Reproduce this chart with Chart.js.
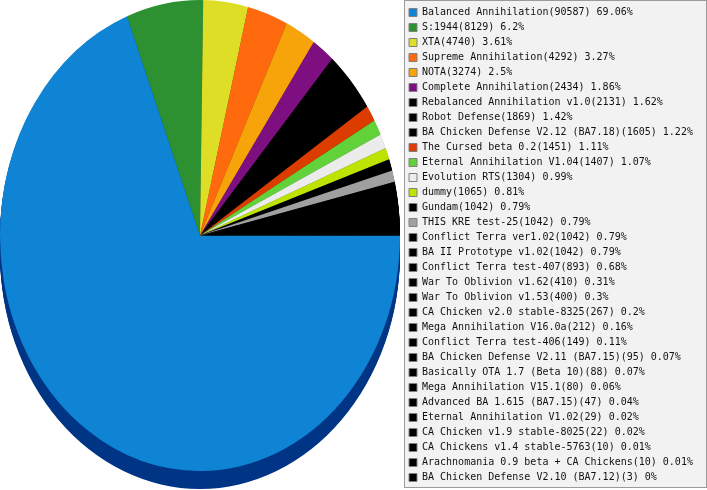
<!DOCTYPE html>
<html>
<head>
<meta charset="utf-8">
<script src="https://cdn.jsdelivr.net/npm/chart.js@4"></script>
<style>
  html, body { margin: 0; padding: 0; background: #fff; }
  #wrap { width: 707px; height: 490px; position: relative; }
</style>
</head>
<body>
<div id="wrap"><canvas id="pieChart"></canvas></div>
<script>
const games = [
  'Balanced Annihilation', 'S:1944', 'XTA', 'Supreme Annihilation', 'NOTA',
  'Complete Annihilation', 'Rebalanced Annihilation v1.0', 'Robot Defense',
  'BA Chicken Defense V2.12 (BA7.18)', 'The Cursed beta 0.2', 'Eternal Annihilation V1.04',
  'Evolution RTS', 'dummy', 'Gundam', 'THIS KRE test-25', 'Conflict Terra ver1.02',
  'BA II Prototype v1.02', 'Conflict Terra test-407', 'War To Oblivion v1.62',
  'War To Oblivion v1.53', 'CA Chicken v2.0 stable-8325', 'Mega Annihilation V16.0a',
  'Conflict Terra test-406', 'BA Chicken Defense V2.11 (BA7.15)', 'Basically OTA 1.7 (Beta 10)',
  'Mega Annihilation V15.1', 'Advanced BA 1.615 (BA7.15)', 'Eternal Annihilation V1.02',
  'CA Chicken v1.9 stable-8025', 'CA Chickens v1.4 stable-5763',
  'Arachnomania 0.9 beta + CA Chickens', 'BA Chicken Defense V2.10 (BA7.12)'
];

const games_played = [
  90587, 8129, 4740, 4292, 3274, 2434, 2131, 1869, 1605, 1451, 1407,
  1304, 1065, 1042, 1042, 1042, 1042, 893, 410, 400, 267, 212,
  149, 95, 88, 80, 47, 29, 22, 10, 10, 3
];

const sliceColors = [
  '#1084d4', '#2d9131', '#dede27', '#ff6a0f', '#f7a30a', '#7d0f80',
  '#000000', '#000000', '#000000', '#dc3c00', '#62d23a', '#ececec',
  '#bde300', '#000000', '#a0a0a0'
];
const otherColor = '#000000';
const rimColor = '#003585'; // dunkler Rand unten

const total = games_played.reduce((a, b) => a + b, 0);
const colors = games_played.map((_, i) => sliceColors[i] || otherColor);

// ellipse on screen (pie is taller than wide)
const PIE_CX = 200, PIE_CY = 235.5, PIE_RX = 200, PIE_RY = 235.5, DEPTH = 18;
const LEGEND_W = 303;

function darker(hex) {
  const n = parseInt(hex.slice(1), 16);
  const r = (n >> 16) & 255, g = (n >> 8) & 255, b = n & 255;
  return `rgb(${Math.round(r * 0.45)},${Math.round(g * 0.45)},${Math.round(b * 0.55)})`;
}

const tiltPlugin = {
  id: 'tilt',
  beforeLayout(chart) {
    const lg = chart.legend;
    if (lg && !lg._fixedWidth) {
      const fit = lg.fit;
      lg.fit = function () { fit.call(this); this.width = LEGEND_W; };
      lg._fixedWidth = true;
    }
  },
  beforeDraw(chart) {
    const lg = chart.legend;
    const ctx = chart.ctx;
    ctx.save();
    ctx.fillStyle = '#f2f2f2';
    ctx.fillRect(lg.left, 0, 706 - lg.left, 487);
    ctx.strokeStyle = '#9a9a9a';
    ctx.lineWidth = 1;
    ctx.strokeRect(lg.left + 0.5, 0.5, 706 - lg.left, 487);
    ctx.restore();
  },
  beforeDatasetsDraw(chart) {
    const ctx = chart.ctx;
    const arcs = chart.getDatasetMeta(0).data;
    const a0 = arcs[0];
    const sx = PIE_RX / a0.outerRadius, sy = PIE_RY / a0.outerRadius;
    ctx.save();
    ctx.translate(PIE_CX, PIE_CY);
    ctx.scale(sx, sy);
    ctx.translate(-a0.x, -a0.y);
    // side wall, drawn back to front so the big slice ends on top
    for (let d = DEPTH; d > 0; d -= 1) {
      const dy = d / sy;
      for (let i = arcs.length - 1; i >= 0; i--) {
        const p = arcs[i].getProps(['x', 'y', 'startAngle', 'endAngle', 'outerRadius']);
        ctx.beginPath();
        ctx.moveTo(p.x, p.y + dy);
        ctx.arc(p.x, p.y + dy, p.outerRadius, p.startAngle, p.endAngle);
        ctx.closePath();
        ctx.fillStyle = i === 0 ? rimColor : darker(colors[i]);
        ctx.fill();
      }
    }
  },
  afterDatasetsDraw(chart) {
    chart.ctx.restore();
  }
};

const ctx = document.getElementById('pieChart').getContext('2d');

const pieChart = new Chart(ctx, {
  type: 'pie',
  data: {
    labels: games,
    datasets: [{
      data: games_played,
      backgroundColor: colors,
      borderWidth: 0,
      hoverOffset: 0,
      clip: false
    }]
  },
  options: {
    responsive: true,
    maintainAspectRatio: false,
    animation: false,
    events: [],
    rotation: 90,
    layout: { padding: 0 },
    plugins: {
      tooltip: { enabled: false },
      legend: {
        position: 'right',
        align: 'center',
        labels: {
          boxWidth: 8,
          boxHeight: 8,
          padding: 5,
          color: '#111',
          font: { family: 'DejaVu Sans Mono', size: 10 },
          generateLabels: (chart) => games.map((name, i) => {
            const pct = Math.round(games_played[i] / total * 10000) / 100;
            return {
              text: `${name}(${games_played[i]}) ${pct}%`,
              fillStyle: colors[i],
              strokeStyle: '#808080',
              lineWidth: 1,
              fontColor: '#111',
              hidden: false,
              index: i
            };
          })
        }
      }
    }
  },
  plugins: [tiltPlugin]
});
</script>
</body>
</html>
